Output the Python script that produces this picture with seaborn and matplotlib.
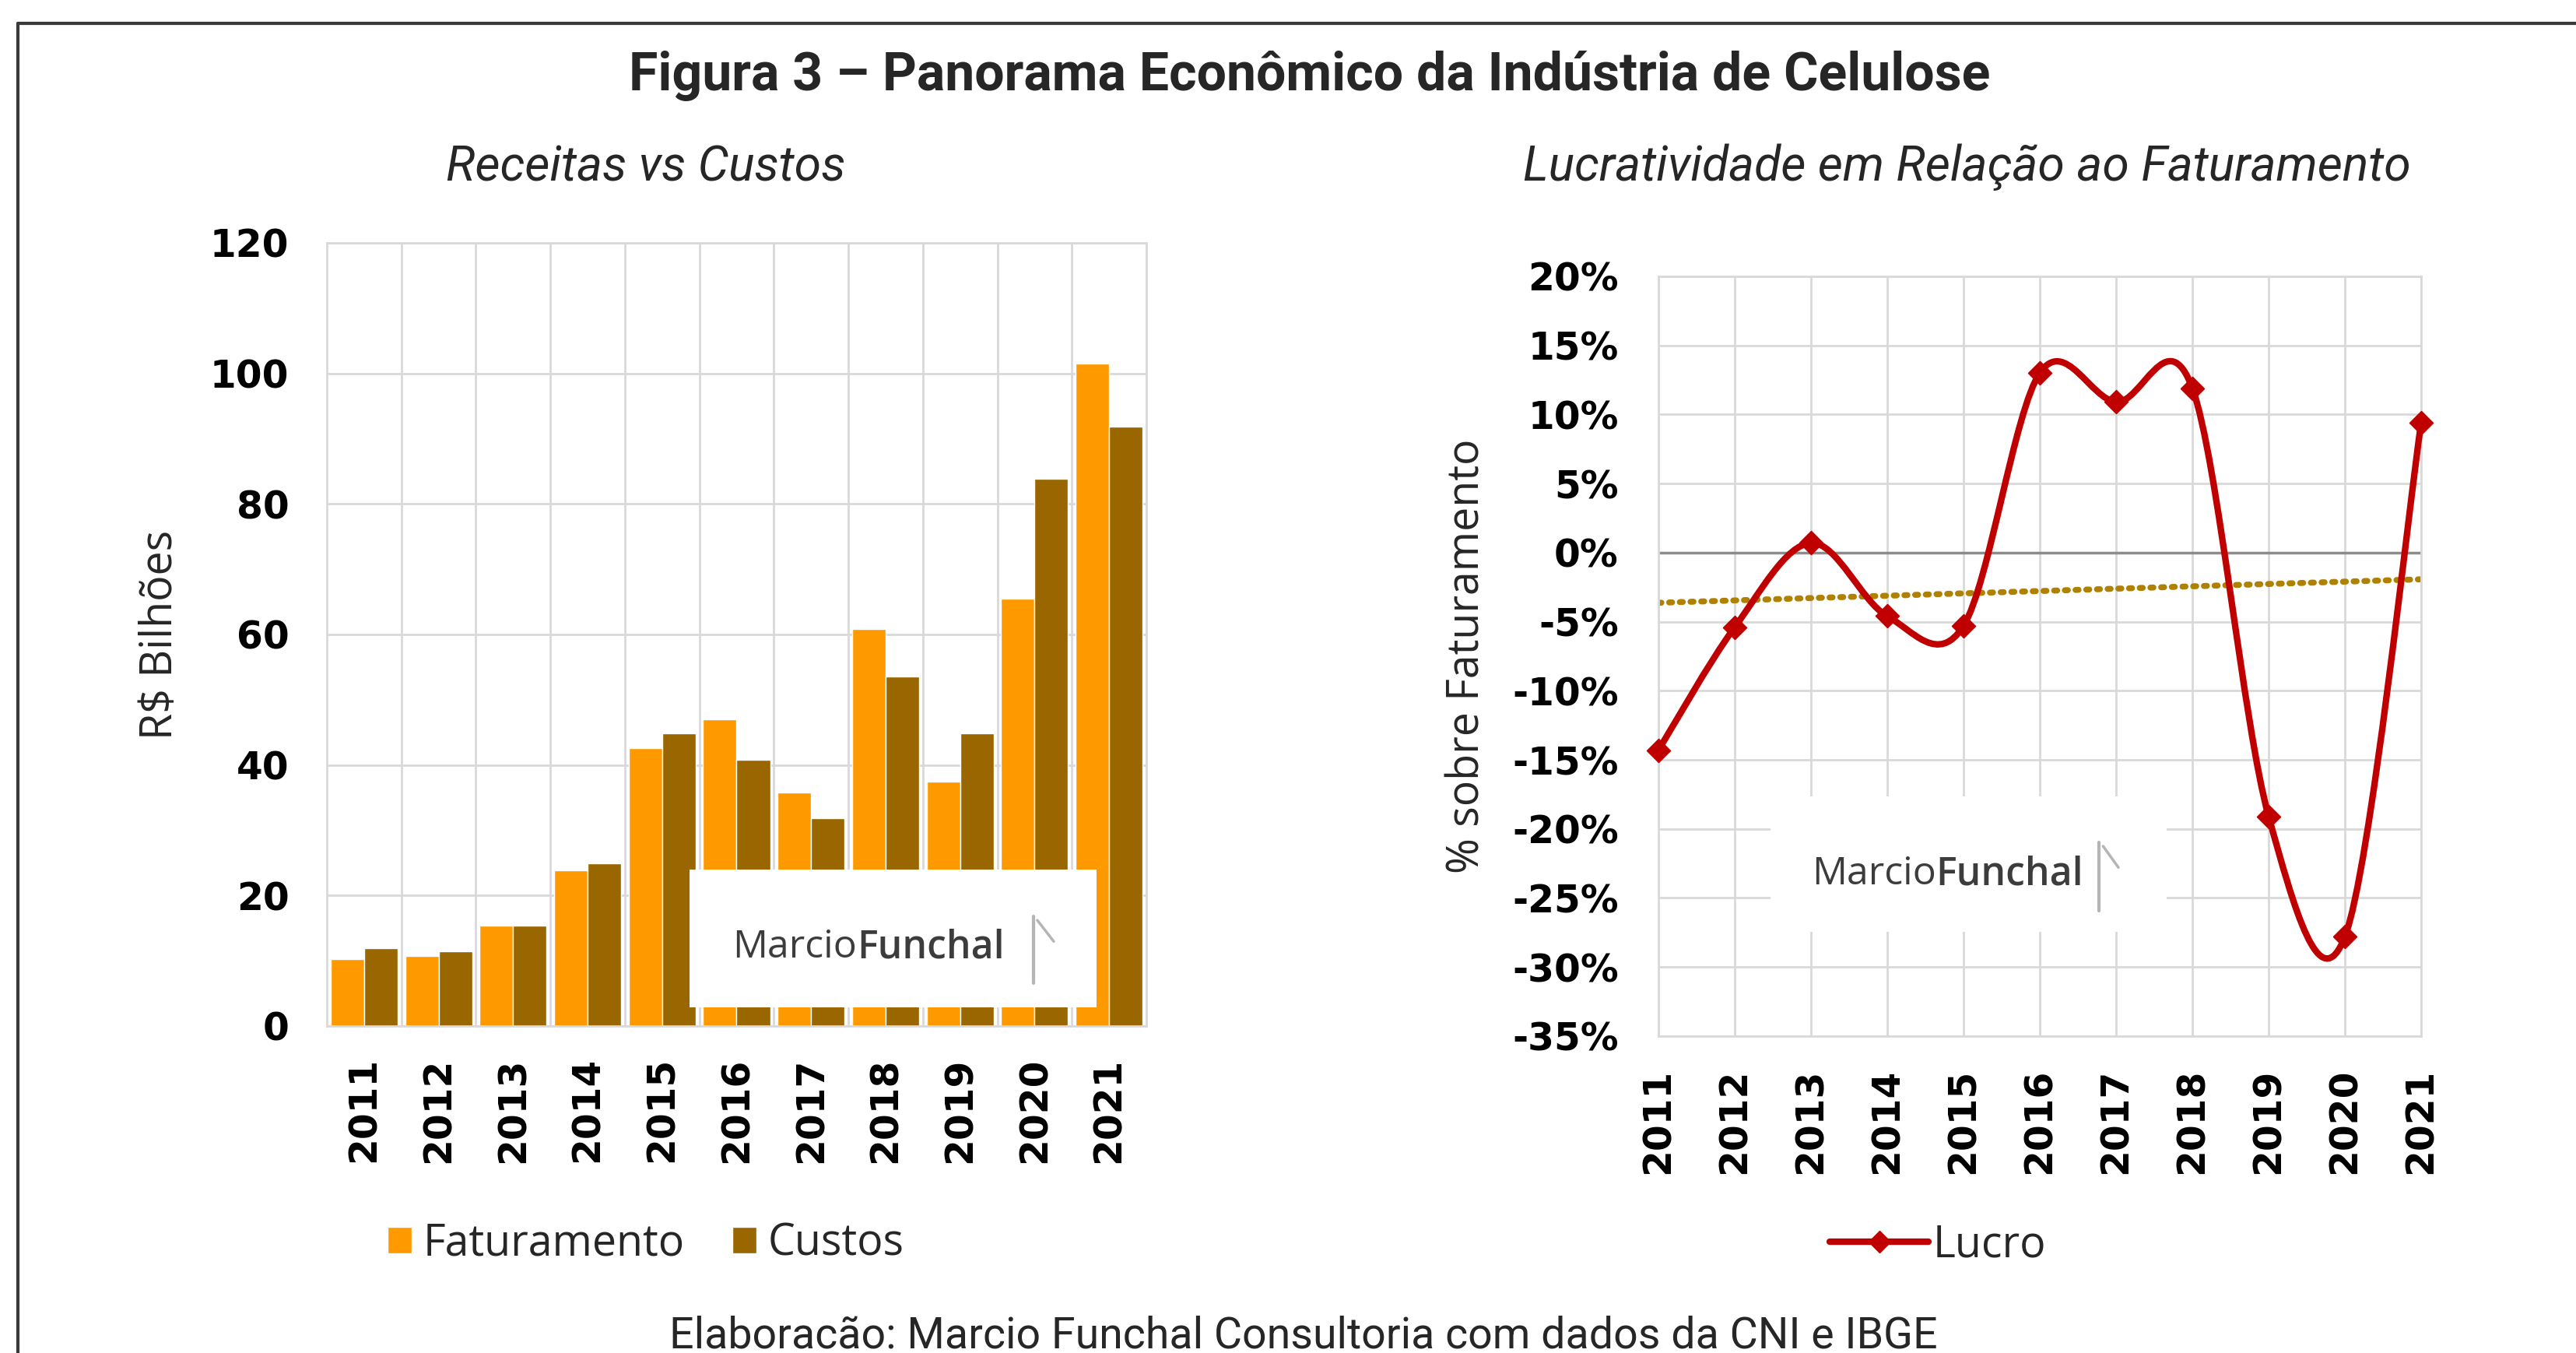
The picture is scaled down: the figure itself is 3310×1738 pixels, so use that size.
import numpy as np
import pandas as pd
import matplotlib
matplotlib.use("Agg")
import matplotlib.pyplot as plt
import seaborn as sns
from matplotlib.path import Path
from matplotlib.patches import PathPatch, Rectangle, Patch
from matplotlib.lines import Line2D
from matplotlib.ticker import FuncFormatter, MultipleLocator
from matplotlib.font_manager import FontProperties

# Data
anos = ["2011", "2012", "2013", "2014", "2015", "2016", "2017", "2018", "2019", "2020", "2021"]
faturamento = [10.2, 10.7, 15.4, 23.8, 42.6, 47.0, 35.8, 60.8, 37.5, 65.5, 101.5]
custos = [11.9, 11.5, 15.4, 24.9, 44.8, 40.8, 31.9, 53.5, 44.8, 83.9, 91.8]
lucro = [-14.3, -5.4, 0.7, -4.6, -5.3, 13.0, 10.9, 11.9, -19.1, -27.8, 9.4]

cor_fat = "#FF9900"
cor_custo = "#996600"
cor_lucro = "#C00000"
cor_trend = "#B08000"
cor_grid = "#d9d9d9"

sns.set_theme(style="white")
plt.rcParams["font.family"] = ["Open Sans", "DejaVu Sans"]

fig = plt.figure(figsize=(33.1, 17.38), dpi=100)
ax1 = fig.add_axes([0.1269, 0.2417, 0.3181, 0.5788])
ax2 = fig.add_axes([0.6438, 0.2342, 0.2961, 0.5616])

# ---- left: Receitas vs Custos ----
df_bar = pd.DataFrame({
    "Ano": anos * 2,
    "Valor": faturamento + custos,
    "Serie": ["Faturamento"] * len(anos) + ["Custos"] * len(anos),
})
sns.barplot(data=df_bar, x="Ano", y="Valor", hue="Serie",
            palette={"Faturamento": cor_fat, "Custos": cor_custo},
            width=0.9, gap=0, saturation=1, legend=False, ax=ax1, zorder=2)
ax1.set_axisbelow(True)
ax1.set_ylim(0, 120)
ax1.set_xlim(-0.5, len(anos) - 0.5)
ax1.yaxis.set_major_locator(MultipleLocator(20))
ax1.set_xticks(np.arange(len(anos)) + 0.5, minor=True)
ax1.grid(axis="y", which="major", color=cor_grid, lw=2)
ax1.grid(axis="x", which="minor", color=cor_grid, lw=2)
ax1.grid(axis="x", which="major", visible=False)
ax1.tick_params(axis="x", which="both", length=0, rotation=90, pad=29)
ax1.tick_params(axis="y", length=0, pad=35)
ax1.set_xlabel("")
ax1.set_ylabel("R$ Bilhões", fontsize=40, family="Open Sans")
ax1.yaxis.set_label_coords(-0.1757, 0.5)

# watermark box
ax1.add_patch(Rectangle((0.4425, 0.024), 0.4965, 0.176, transform=ax1.transAxes,
                        facecolor="white", edgecolor="none", zorder=3))
ax1.text(0.6467, 0.100, "Marcio", transform=ax1.transAxes, ha="right", va="center",
         fontsize=36, color="#3c3c3c", family="Open Sans", zorder=4)
ax1.text(0.6467, 0.100, "Funchal", transform=ax1.transAxes, ha="left", va="center",
         fontsize=36, color="#3c3c3c", family="Open Sans", fontweight="semibold", zorder=4)
ax1.add_line(Line2D([0.862, 0.862], [0.055, 0.14], transform=ax1.transAxes,
                    color="#b5b5b5", lw=3, zorder=4))
ax1.add_line(Line2D([0.867, 0.887], [0.135, 0.108], transform=ax1.transAxes,
                    color="#b5b5b5", lw=2.5, zorder=4))

# ---- right: Lucratividade ----
pos = np.arange(len(anos))
ax2.set_axisbelow(True)

# smoothed line (Excel style), Bezier through the data points
P = np.column_stack([pos, lucro]).astype(float)
n = len(P)
verts = [P[0]]
codes = [Path.MOVETO]
for i in range(n - 1):
    p0 = P[max(i - 1, 0)]
    p1 = P[i]
    p2 = P[i + 1]
    p3 = P[min(i + 2, n - 1)]
    verts += [p1 + (p2 - p0) / 6, p2 - (p3 - p1) / 6, p2]
    codes += [Path.CURVE4] * 3
ax2.add_patch(PathPatch(Path(verts, codes), facecolor="none", edgecolor=cor_lucro,
                        lw=6, zorder=4, capstyle="round", joinstyle="round",
                        clip_on=False))
sns.scatterplot(x=pos, y=lucro, marker="D", s=230, color=cor_lucro,
                edgecolor=cor_lucro, zorder=5, clip_on=False, ax=ax2)
sns.regplot(x=pos, y=lucro, scatter=False, ci=None, truncate=True, color=cor_trend,
            line_kws=dict(ls=(0, (0.5, 1.3)), lw=5.5, dash_capstyle="round", zorder=2),
            ax=ax2)
ax2.axhline(0, color="#8c8c8c", lw=2.5, zorder=1.5)

ax2.set_xlim(0, len(anos) - 1)
ax2.set_ylim(-35, 20)
ax2.yaxis.set_major_locator(MultipleLocator(5))
ax2.yaxis.set_major_formatter(FuncFormatter(lambda v, p: f"{v:.0f}%"))
ax2.set_xticks(pos)
ax2.set_xticklabels(anos)
ax2.grid(axis="both", which="major", color=cor_grid, lw=2)
ax2.tick_params(axis="x", length=0, rotation=90, pad=30)
ax2.tick_params(axis="y", length=0, pad=37)
ax2.set_xlabel("")
ax2.set_ylabel("% sobre Faturamento", fontsize=40, family="Open Sans")
ax2.yaxis.set_label_coords(-0.2204, 0.5)

ax2.add_patch(Rectangle((0.147, 0.137), 0.519, 0.179, transform=ax2.transAxes,
                        facecolor="white", edgecolor="none", zorder=3))
ax2.text(0.364, 0.213, "Marcio", transform=ax2.transAxes, ha="right", va="center",
         fontsize=36, color="#3c3c3c", family="Open Sans", zorder=4)
ax2.text(0.364, 0.213, "Funchal", transform=ax2.transAxes, ha="left", va="center",
         fontsize=36, color="#3c3c3c", family="Open Sans", fontweight="semibold", zorder=4)
ax2.add_line(Line2D([0.578, 0.578], [0.165, 0.255], transform=ax2.transAxes,
                    color="#b5b5b5", lw=3, zorder=4))
ax2.add_line(Line2D([0.583, 0.603], [0.25, 0.222], transform=ax2.transAxes,
                    color="#b5b5b5", lw=2.5, zorder=4))

for ax in (ax1, ax2):
    for sp in ax.spines.values():
        sp.set_visible(True)
        sp.set_color(cor_grid)
        sp.set_linewidth(2)
    for lbl in ax.get_xticklabels() + ax.get_yticklabels():
        lbl.set_family("DejaVu Sans")
        lbl.set_fontweight("bold")
        lbl.set_fontsize(35)
        lbl.set_color("black")

# legends
leg_font = FontProperties(family="Open Sans", size=40)
fig.legend(handles=[Patch(facecolor=cor_fat, label="Faturamento"),
                    Patch(facecolor=cor_custo, label="Custos")],
           loc="center", bbox_to_anchor=(0.2508, 0.0806), ncol=2, frameon=False,
           prop=leg_font, handlelength=0.55, handleheight=0.55, handletextpad=0.27,
           columnspacing=1.1)
fig.legend(handles=[Line2D([], [], color=cor_lucro, lw=6, marker="D", markersize=14,
                           label="Lucro")],
           loc="center", bbox_to_anchor=(0.7523, 0.0794), frameon=False,
           prop=leg_font, handlelength=2.3, handletextpad=0.1)

# titles and footer
fig.text(0.5085, 0.944, "Figura 3 – Panorama Econômico da Indústria de Celulose",
         ha="center", va="center", fontsize=49, fontweight="bold", family="Roboto")
fig.text(0.2508, 0.8765, "Receitas vs Custos", ha="center", va="center",
         fontsize=45, style="italic", family="Roboto")
fig.text(0.7637, 0.8765, "Lucratividade em Relação ao Faturamento", ha="center",
         va="center", fontsize=45, style="italic", family="Roboto")
fig.text(0.506, 0.0125, "Elaboracão: Marcio Funchal Consultoria com dados da CNI e IBGE",
         ha="center", va="center", fontsize=40, family="Roboto")

# outer frame (top and left edges)
fig.add_artist(Line2D([0.0069, 1.0], [0.9827, 0.9827], transform=fig.transFigure,
                      color="#3a3a3a", lw=3))
fig.add_artist(Line2D([0.0069, 0.0069], [0.0, 0.9827], transform=fig.transFigure,
                      color="#3a3a3a", lw=3))

fig.savefig("out.png", dpi=100)
